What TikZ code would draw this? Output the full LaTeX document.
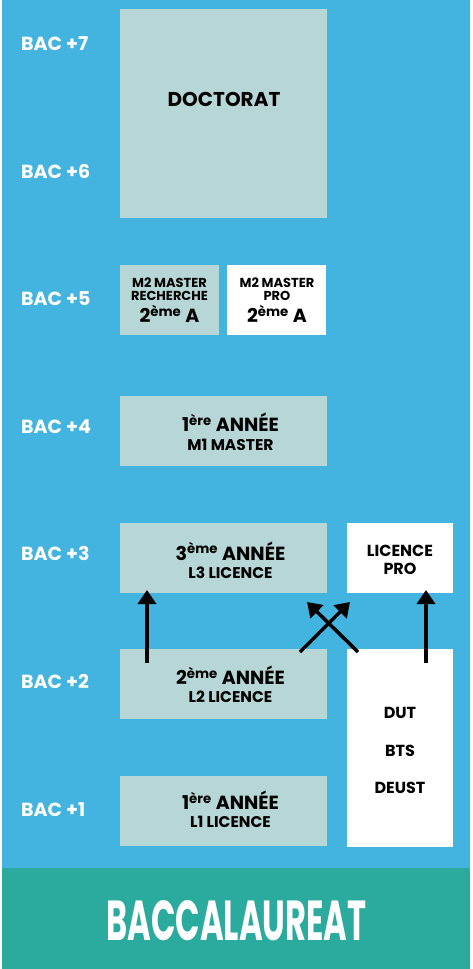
\documentclass[tikz,border=0pt]{standalone}
\usepackage{fontspec}
\setmainfont{Poppins}
\usetikzlibrary{arrows.meta}
\definecolor{bgblue}{HTML}{43B3E0}
\definecolor{bggreen}{HTML}{2BAB9E}
\definecolor{boxgrey}{HTML}{B7D7D6}
\begin{document}
\begin{tikzpicture}[x=1pt,y=-1pt,
  box/.style={anchor=north west,inner sep=0pt,outer sep=0pt},
  greybox/.style={box,fill=boxgrey},
  whitebox/.style={box,fill=white},
  txt/.style={anchor=base,inner sep=0pt,text=black},
  big/.style={txt,font=\fontsize{19}{19}\selectfont\bfseries},
  mid/.style={txt,font=\fontsize{15.5}{15.5}\selectfont\bfseries},
  small/.style={txt,font=\fontsize{13}{13}\selectfont\bfseries},
  side/.style={txt,font=\fontsize{16}{16}\selectfont\bfseries},
  baclabel/.style={anchor=base west,inner sep=0pt,text=white,font=\fontsize{19}{19}\selectfont\bfseries},
  arr/.style={line width=3.5pt,-{Triangle[length=14pt,width=18pt]}}]
\useasboundingbox (0,0) rectangle (472,969);
\fill[white] (0,0) rectangle (472,969);
\fill[bgblue] (2,0) rectangle (470,868);
\fill[bggreen] (2,868) rectangle (470,969);

% level labels
\node[baclabel] (b7) at (21,50) {BAC +7};
\node[baclabel] (b6) at (21,178) {BAC +6};
\node[baclabel] (b5) at (21,305.5) {BAC +5};
\node[baclabel] (b4) at (21,433) {BAC +4};
\node[baclabel] (b3) at (21,560.5) {BAC +3};
\node[baclabel] (b2) at (21,688.5) {BAC +2};
\node[baclabel] (b1) at (21,816) {BAC +1};

% boxes
\node[greybox,minimum width=207pt,minimum height=209pt] (doc) at (120,9) {};
\node[txt,font=\fontsize{20}{20}\selectfont\bfseries] (doctxt) at (224,106) {DOCTORAT};

\node[greybox,minimum width=99pt,minimum height=70pt] (m2r) at (120,265) {};
\node[small] (m2ra) at (169.5,287.3) {M2 MASTER};
\node[small] (m2rb) at (169.5,300.7) {RECHERCHE};
\node[big] (m2rc) at (169.5,322.7) {2\textsuperscript{ème} A};

\node[whitebox,minimum width=99pt,minimum height=70pt] (m2p) at (227,265) {};
\node[small] (m2pa) at (277,287.3) {M2 MASTER};
\node[small] (m2pb) at (277,300.7) {PRO};
\node[big] (m2pc) at (277,322.7) {2\textsuperscript{ème} A};

\node[greybox,minimum width=207pt,minimum height=70pt] (m1) at (120,396) {};
\node[big] (m1a) at (230.5,431.7) {1\textsuperscript{ère} ANNÉE};
\node[mid] (m1b) at (230.5,450) {M1 MASTER};

\node[greybox,minimum width=207pt,minimum height=70pt] (l3) at (120,523) {};
\node[big] (l3a) at (230.5,560) {3\textsuperscript{ème} ANNÉE};
\node[mid] (l3b) at (230.5,578.3) {L3 LICENCE};

\node[whitebox,minimum width=106pt,minimum height=70pt] (lpro) at (347,523) {};
\node[side] (lproa) at (400,556.7) {LICENCE};
\node[side] (lprob) at (400,574) {PRO};

\node[greybox,minimum width=207pt,minimum height=70pt] (l2) at (120,649) {};
\node[big] (l2a) at (230.5,684.3) {2\textsuperscript{ème} ANNÉE};
\node[mid] (l2b) at (230.5,702.7) {L2 LICENCE};

\node[greybox,minimum width=207pt,minimum height=70pt] (l1) at (120,776) {};
\node[big] (l1a) at (230.5,809.3) {1\textsuperscript{ère} ANNÉE};
\node[mid] (l1b) at (230.5,827.3) {L1 LICENCE};

\node[whitebox,minimum width=106pt,minimum height=198pt] (dut) at (347,649) {};
\node[side] (duta) at (400,718.3) {DUT};
\node[side] (dutb) at (400,756) {BTS};
\node[side] (dutc) at (400,793.3) {DEUST};

\node[anchor=base,inner sep=0pt,text=white] (bac) at (236.5,940)
  {\resizebox{260pt}{40pt}{\bfseries BACCALAUREAT}};

% arrows
\draw[arr] ([xshift=27pt,yshift=-14pt]l2.north west) -- ([xshift=27pt,yshift=3pt]l3.south west);
\draw[arr] ([xshift=-27pt,yshift=-14pt]dut.north east) -- ([xshift=-27pt,yshift=3pt]lpro.south east);
\draw[arr] ([xshift=-27pt,yshift=-3pt]l2.north east) -- ([xshift=3pt,yshift=-9pt]lpro.south west);
\draw[arr] ([xshift=11pt,yshift=-3pt]dut.north west) -- ([xshift=-20pt,yshift=-9pt]l3.south east);
\end{tikzpicture}
\end{document}
